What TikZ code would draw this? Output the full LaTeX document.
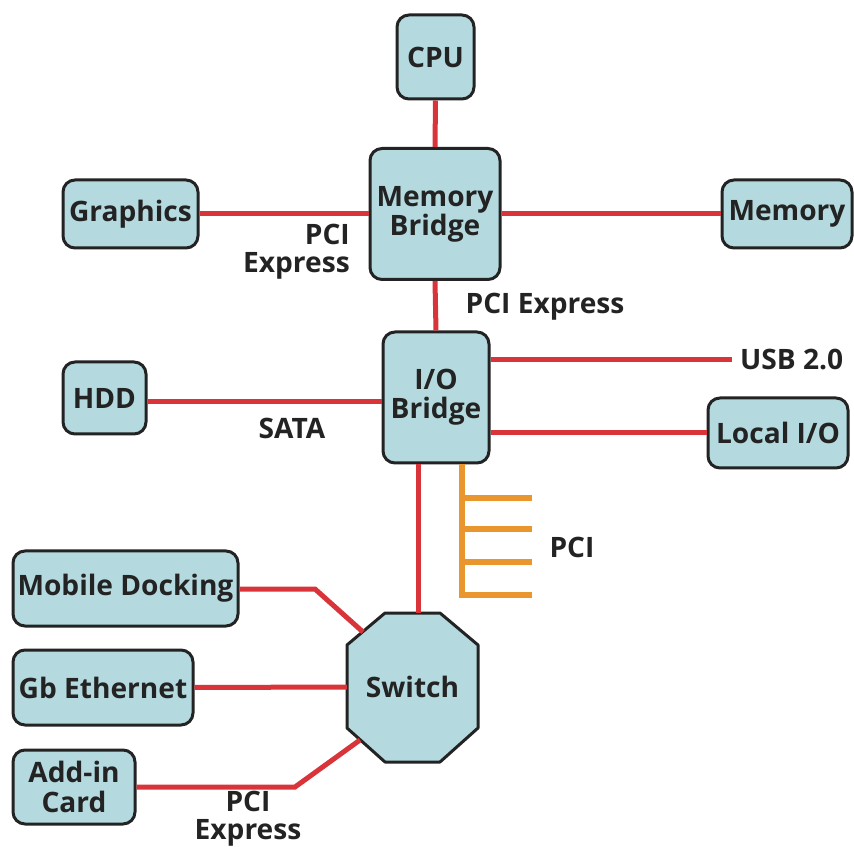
\documentclass[tikz,border=0pt]{standalone}
\usepackage{fontspec}
\setmainfont{Open Sans}
\newdimen\pxu \pxu=0.03cm
\definecolor{boxfill}{RGB}{180,218,223}
\definecolor{linkred}{RGB}{216,52,58}
\definecolor{pciorange}{RGB}{232,150,45}
\definecolor{edgegray}{RGB}{35,35,35}
\tikzset{
  box/.style={draw=edgegray, line width=3\pxu, fill=boxfill, rounded corners=12\pxu,
    inner sep=0pt, align=center, text=edgegray,
    font=\bfseries\fontsize{24}{25}\selectfont},
  link/.style={draw=linkred, line width=5\pxu},
  pcibus/.style={draw=pciorange, line width=6\pxu},
  lbl/.style={inner sep=0pt, text=edgegray, font=\bfseries\fontsize{24}{24}\selectfont}
}
\begin{document}
\begin{tikzpicture}[x=0.03cm, y=-0.03cm]
\useasboundingbox (0,0) rectangle (854,847);
% boxes
\node[box, minimum width=77\pxu, minimum height=84\pxu] (cpu) at (435.5,57) {CPU};
\node[box, minimum width=130\pxu, minimum height=131\pxu] (mb) at (435,214) {Memory\\Bridge};
\node[box, minimum width=135\pxu, minimum height=68\pxu] (gfx) at (130.5,214) {Graphics};
\node[box, minimum width=130\pxu, minimum height=68\pxu] (mem) at (787,214) {Memory};
\node[box, minimum width=106\pxu, minimum height=131\pxu] (iob) at (436,397.5) {I/O\\Bridge};
\node[box, minimum width=83\pxu, minimum height=72\pxu] (hdd) at (104.5,398) {HDD};
\node[box, minimum width=140\pxu, minimum height=70\pxu] (lio) at (778,433) {Local I/O};
\node[box, minimum width=225\pxu, minimum height=75\pxu] (mob) at (125.5,588.5) {Mobile Docking};
\node[box, minimum width=180\pxu, minimum height=75\pxu] (gbe) at (103,687.5) {Gb Ethernet};
\node[box, minimum width=122\pxu, minimum height=74\pxu] (add) at (74,787) {Add-in\\Card};
% switch octagon
\draw[draw=edgegray, line width=3\pxu, fill=boxfill, line join=round]
  (385,613) -- (440,613) -- (478,645) -- (478,728) -- (440,762) -- (385,762) -- (347,728) -- (347,645) -- cycle;
\node[lbl] (sw) at (412.5,687) {Switch};
\coordinate (swtop) at (418,613);
\coordinate (swul) at (363,632);
\coordinate (swl) at (347,687);
\coordinate (swll) at (360,740);
% red links
\draw[link] (cpu.south) -- (mb.north);
\draw[link] (gfx.east) -- (mb.west);
\draw[link] (mb.east) -- (mem.west);
\draw[link] (mb.south) -- (iob.north);
\draw[link] (hdd.east |- 0,402) -- (iob.west |- 0,402);
\coordinate (usbend) at (732,360);
\draw[link] (iob.east |- usbend) -- (usbend);
\draw[link] (iob.east |- lio.west) -- (lio.west);
\draw[link] (iob.south -| swtop) -- (swtop);
\draw[link] (mob.east |- 0,589) -- (315,589) -- (swul);
\draw[link] (gbe.east) -- (swl);
\draw[link] (add.east) -- (295,787) -- (swll);
% PCI bus
\coordinate (pcibot) at (462,597);
\draw[pcibus] (iob.south -| pcibot) -- (pcibot);
\foreach \yy in {498,529,562,595} \draw[pcibus] (459,\yy) -- (532,\yy);
% labels
\node[lbl, anchor=west] (usb) at (740,359) {USB 2.0};
\node[lbl] (sata) at (292,428) {SATA};
\node[lbl, align=right, anchor=east] (pcie1) at (350,252) {PCI\\Express};
\node[lbl] (pcie2) at (545,307) {PCI Express};
\node[lbl] (pcil) at (572,547) {PCI};
\node[lbl, align=center] (pcie3) at (248,819) {PCI\\Express};
\end{tikzpicture}
\end{document}
